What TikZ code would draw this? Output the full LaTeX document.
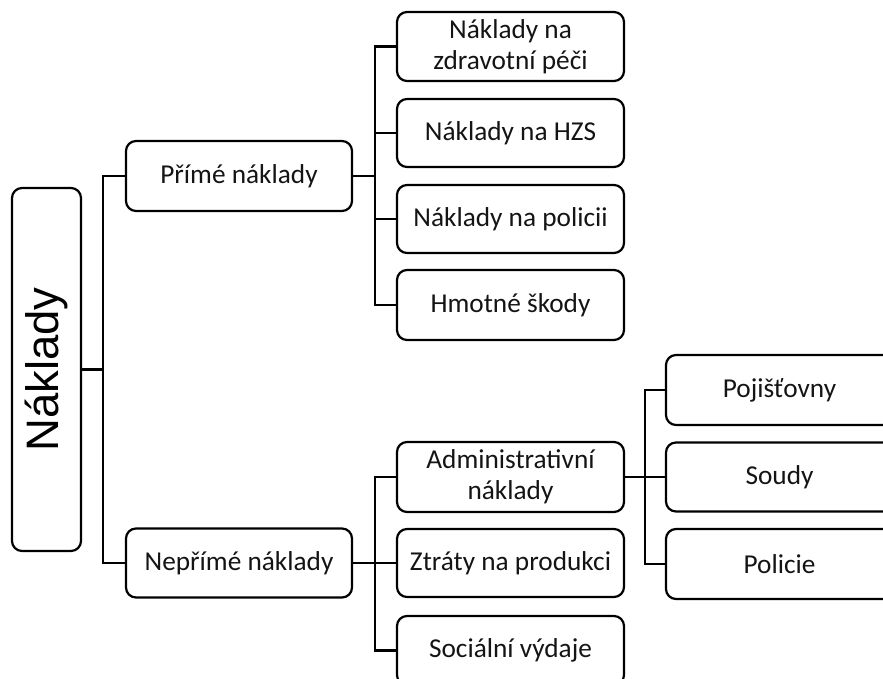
\documentclass[tikz,border=0pt]{standalone}
\usepackage{fontspec}
\setmainfont{Carlito}
\newfontfamily\arialfont{Liberation Sans}
\begin{document}
\begin{tikzpicture}[x=1pt,y=-1pt,
  box/.style={draw=black, line width=2.2pt, rounded corners=10pt, minimum width=227pt,
    minimum height=69pt, inner sep=0pt, align=center,
    font=\fontsize{27.3}{31}\selectfont, text=black!92},
  rootbox/.style={draw=black, line width=2.2pt, rounded corners=10pt, minimum width=69pt,
    minimum height=363pt, inner sep=0pt, text=black},
  conn/.style={draw=black, line width=2.2pt}]
\useasboundingbox (0,0) rectangle (883,679);
\clip (0,0) rectangle (883,679);

\node[rootbox] (root) at (46.5,369.5) {\rotatebox{90}{\arialfont\fontsize{45.5}{50}\selectfont Náklady}};

\node[box, minimum width=226pt, minimum height=70pt] (p) at (239,176) {Přímé náklady};
\node[box, minimum width=226pt] (n) at (239,563) {Nepřímé náklady};

\node[box] (p1) at (510.5,46.5) {Náklady na\\zdravotní péči};
\node[box, minimum height=68pt] (p2) at (510.5,133) {Náklady na HZS};
\node[box, minimum height=68pt] (p3) at (510.5,219) {Náklady na policii};
\node[box, minimum height=70pt] (p4) at (510.5,305) {Hmotné škody};

\node[box, minimum height=70pt] (n1) at (510.5,477) {Administrativní\\náklady};
\node[box, minimum height=68pt] (n2) at (510.5,563) {Ztráty na produkci};
\node[box] (n3) at (510.5,650.5) {Sociální výdaje};

\node[box, minimum height=70pt] (a1) at (779.5,390) {Pojišťovny};
\node[box] (a2) at (779.5,477) {Soudy};
\node[box, minimum height=70pt] (a3) at (779.5,564) {Policie};

\coordinate (b0) at (103,369.5);
\coordinate (b1) at (375,176);
\coordinate (b2) at (375,563);
\coordinate (b3) at (645,477);

\draw[conn] (root.east) -- (b0);
\draw[conn] (p.west) -| (b0) |- (n.west);

\draw[conn] (p.east) -- (b1);
\draw[conn] (p1.west) -| (b1) |- (p4.west);
\draw[conn] (b1) |- (p2.west);
\draw[conn] (b1) |- (p3.west);

\draw[conn] (n.east) -- (n2.west);
\draw[conn] (n1.west) -| (b2) |- (n3.west);

\draw[conn] (n1.east) -- (a2.west);
\draw[conn] (a1.west) -| (b3) |- (a3.west);
\end{tikzpicture}
\end{document}
